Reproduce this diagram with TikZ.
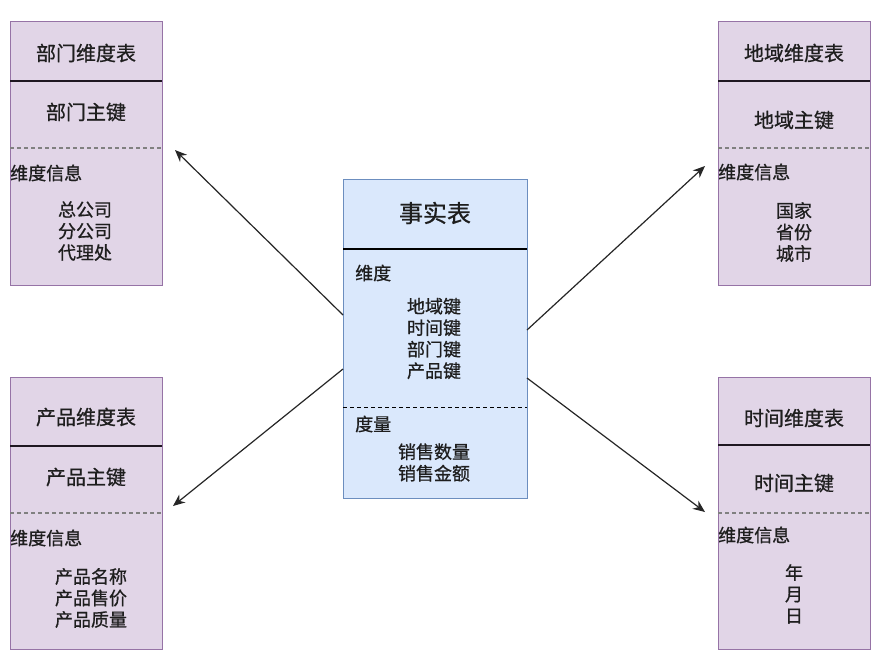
\documentclass[tikz,border=0pt]{standalone}
\usepackage{fontspec}
\setmainfont[FakeBold=0.8]{Noto Sans CJK SC}
\usetikzlibrary{arrows.meta}
\definecolor{pfill}{HTML}{E1D5E7}
\definecolor{pline}{HTML}{9673A6}
\definecolor{bfill}{HTML}{DAE8FC}
\definecolor{bline}{HTML}{6C8EBF}
\definecolor{txt}{HTML}{1E1E1E}
\tikzset{
  dimbox/.style={draw=pline, fill=pfill, line width=1pt, minimum width=152pt, minimum height=264pt, inner sep=0pt},
  factbox/.style={draw=bline, fill=bfill, line width=1pt, minimum width=184pt, minimum height=319pt, inner sep=0pt},
  hdrline/.style={draw=black!80!pline, line width=1.2pt},
  dimdash/.style={draw=gray, line width=1.3pt, dash pattern=on 4pt off 3pt},
  factdash/.style={draw=black, line width=0.9pt, dash pattern=on 4pt off 3pt},
  ttl/.style={text=txt, font=\fontsize{20}{24}\selectfont, inner sep=0pt},
  bigttl/.style={text=txt, font=\fontsize{24}{28}\selectfont, inner sep=0pt},
  lbl/.style={text=txt, font=\fontsize{18}{21.5}\selectfont, inner sep=0pt, align=center},
  sub/.style={text=txt, font=\fontsize{18}{21}\selectfont, inner sep=0pt, anchor=west},
  conn/.style={draw=black!85, line width=1.2pt, -{Stealth[length=12pt,width=10pt]}},
}
\begin{document}
\begin{tikzpicture}[x=1pt,y=-1pt]
\useasboundingbox (0,0) rectangle (889,665);
\fill[white] (0,0) rectangle (889,665);

% ---------- top-left: 部门维度表
\node[dimbox] (bm) at (86,153) {};
\draw[hdrline] (10,81) -- (162,81);
\draw[dimdash] (10,148) -- (162,148);
\node[ttl] (bmt) at (86,53) {部门维度表};
\node[ttl] (bmk) at (86,112) {部门主键};
\node[sub] (bms) at (10,173) {维度信息};
\node[lbl] (bmi) at (85,231) {总公司\\分公司\\代理处};

% ---------- top-right: 地域维度表
\node[dimbox] (dy) at (794,153) {};
\draw[hdrline] (718,81) -- (870,81);
\draw[dimdash] (718,148) -- (870,148);
\node[ttl] (dyt) at (794,53) {地域维度表};
\node[ttl] (dyk) at (794,120) {地域主键};
\node[sub] (dys) at (718,172) {维度信息};
\node[lbl] (dyi) at (794,232) {国家\\省份\\城市};

% ---------- bottom-left: 产品维度表
\node[dimbox, minimum height=272pt] (cp) at (86,513) {};
\draw[hdrline] (10,446) -- (162,446);
\draw[dimdash] (10,513) -- (162,513);
\node[ttl] (cpt) at (86,417) {产品维度表};
\node[ttl] (cpk) at (86,477) {产品主键};
\node[sub] (cps) at (10,538) {维度信息};
\node[lbl] (cpi) at (91,598) {产品名称\\产品售价\\产品质量};

% ---------- bottom-right: 时间维度表
\node[dimbox, minimum height=272pt] (sj) at (794,513) {};
\draw[hdrline] (718,445) -- (870,445);
\draw[dimdash] (718,513) -- (870,513);
\node[ttl] (sjt) at (794,418) {时间维度表};
\node[ttl] (sjk) at (794,483) {时间主键};
\node[sub] (sjs) at (718,535) {维度信息};
\node[lbl] (sji) at (794,594) {年\\月\\日};

% ---------- centre: 事实表
\node[factbox] (ft) at (435,338.5) {};
\draw[draw=black, line width=1.2pt] (343,249) -- (527,249);
\draw[factdash] (343,407) -- (527,407);
\node[bigttl] (ftt) at (435,213) {事实表};
\node[sub] (fw) at (355,273) {维度};
\node[lbl] (fwi) at (434,338.5) {地域键\\时间键\\部门键\\产品键};
\node[sub] (fd) at (355,424) {度量};
\node[lbl] (fdi) at (434,462.5) {销售数量\\销售金额};

% ---------- connectors
\coordinate (s1) at (343,315);
\coordinate (s2) at (343,369);
\coordinate (s3) at (527,330);
\coordinate (s4) at (527,378);
\coordinate (e1) at (175,150);
\coordinate (e2) at (173,506);
\coordinate (e3) at (705,166);
\coordinate (e4) at (705,512);
\draw[conn] (s1) -- (e1);
\draw[conn] (s2) -- (e2);
\draw[conn] (s3) -- (e3);
\draw[conn] (s4) -- (e4);
\end{tikzpicture}
\end{document}
